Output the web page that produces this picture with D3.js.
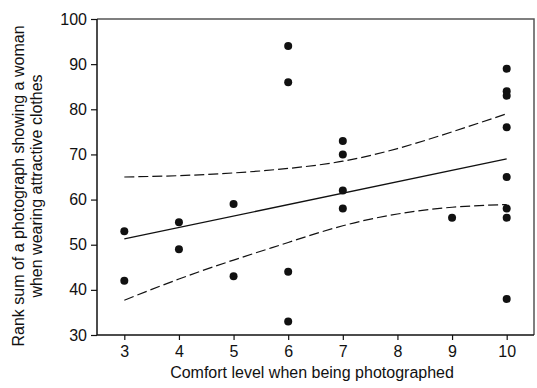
<!DOCTYPE html>
<html>
<head>
<meta charset="utf-8">
<script src="https://cdn.jsdelivr.net/npm/d3@7"></script>
<style>
  html, body { margin: 0; padding: 0; background: #fff; }
  svg { display: block; }
  text { font-family: "Liberation Sans", Arial, sans-serif; fill: #111; }
</style>
</head>
<body>
<svg id="chart" width="537" height="388"></svg>
<script>
// ---- data ----
const pointX = [3, 3, 4, 4, 5, 5, 6, 6, 6, 6, 7, 7, 7, 7, 9, 10, 10, 10, 10, 10, 10, 10, 10];
const pointY = [53, 42, 55, 49, 59, 43, 94, 86, 44, 33, 73, 70, 62, 58, 56, 89, 84, 83, 76, 65, 58, 56, 38];
const fitX = [3, 10];
const fitY = [51.3, 69.0];
const bandX = [3, 4, 5, 6, 7, 8, 9, 10];
const upperY = [65.0, 65.3, 65.9, 66.9, 68.5, 71.3, 75.0, 79.0];
const lowerY = [37.7, 42.4, 46.6, 50.5, 54.2, 56.8, 58.3, 58.9];
const xTicks = [3, 4, 5, 6, 7, 8, 9, 10];
const yTicks = [30, 40, 50, 60, 70, 80, 90, 100];
const xTitle = "Comfort level when being photographed";
const yTitle = ["Rank sum of a photograph showing a woman", "when wearing attractive clothes"];

// ---- layout ----
const L = 97, R = 534, T = 19, B = 335;
const svg = d3.select("#chart");
const x = d3.scaleLinear().domain([2.5, 10.5]).range([L, R]);
const y = d3.scaleLinear().domain([30, 100]).range([B, T]);

// frame top/right
svg.append("path")
  .attr("d", `M${L},${T}H${R}V${B}`)
  .attr("fill", "none").attr("stroke", "#555").attr("stroke-width", 1.5);

// axes
const xAxis = svg.append("g").attr("transform", `translate(0,${B})`)
  .call(d3.axisBottom(x).tickValues(xTicks).tickSize(5).tickPadding(6).tickSizeOuter(0));
const yAxis = svg.append("g").attr("transform", `translate(${L},0)`)
  .call(d3.axisLeft(y).tickValues(yTicks).tickSize(6).tickPadding(4).tickSizeOuter(0));
[xAxis, yAxis].forEach(g => {
  g.select(".domain").attr("stroke", "#111").attr("stroke-width", 1.5);
  g.selectAll(".tick line").attr("stroke", "#111").attr("stroke-width", 1.2);
  g.selectAll(".tick text").attr("font-size", 16).attr("font-family", '"Liberation Sans", Arial, sans-serif').attr("fill", "#111");
});
xAxis.select(".domain").attr("d", `M${L},0H${R}`);
yAxis.select(".domain").attr("d", `M0,${B}V${T}`);

// confidence bands
const bandLine = d3.line().curve(d3.curveNatural).x(d => x(d[0])).y(d => y(d[1]));
[upperY, lowerY].forEach(arr => {
  svg.append("path")
    .datum(bandX.map((v, i) => [v, arr[i]]))
    .attr("d", bandLine)
    .attr("fill", "none").attr("stroke", "#111").attr("stroke-width", 1.2)
    .attr("stroke-dasharray", "10,4");
});

// fit line
svg.append("path")
  .datum(fitX.map((v, i) => [v, fitY[i]]))
  .attr("d", d3.line().x(d => x(d[0])).y(d => y(d[1])))
  .attr("fill", "none").attr("stroke", "#111").attr("stroke-width", 1.3);

// points
svg.append("g").selectAll("circle")
  .data(pointX.map((v, i) => [v, pointY[i]]))
  .join("circle")
  .attr("cx", d => x(d[0])).attr("cy", d => y(d[1]))
  .attr("r", 4).attr("fill", "#111");

// titles
svg.append("text")
  .attr("x", 312).attr("y", 378)
  .attr("text-anchor", "middle").attr("font-size", 16)
  .text(xTitle);

const yt = svg.append("text")
  .attr("transform", `translate(0,186) rotate(-90)`)
  .attr("text-anchor", "middle").attr("font-size", 16);
yTitle.forEach((s, i) => {
  yt.append("tspan").attr("x", 0).attr("y", 24 + i * 18).text(s);
});
</script>
</body>
</html>
